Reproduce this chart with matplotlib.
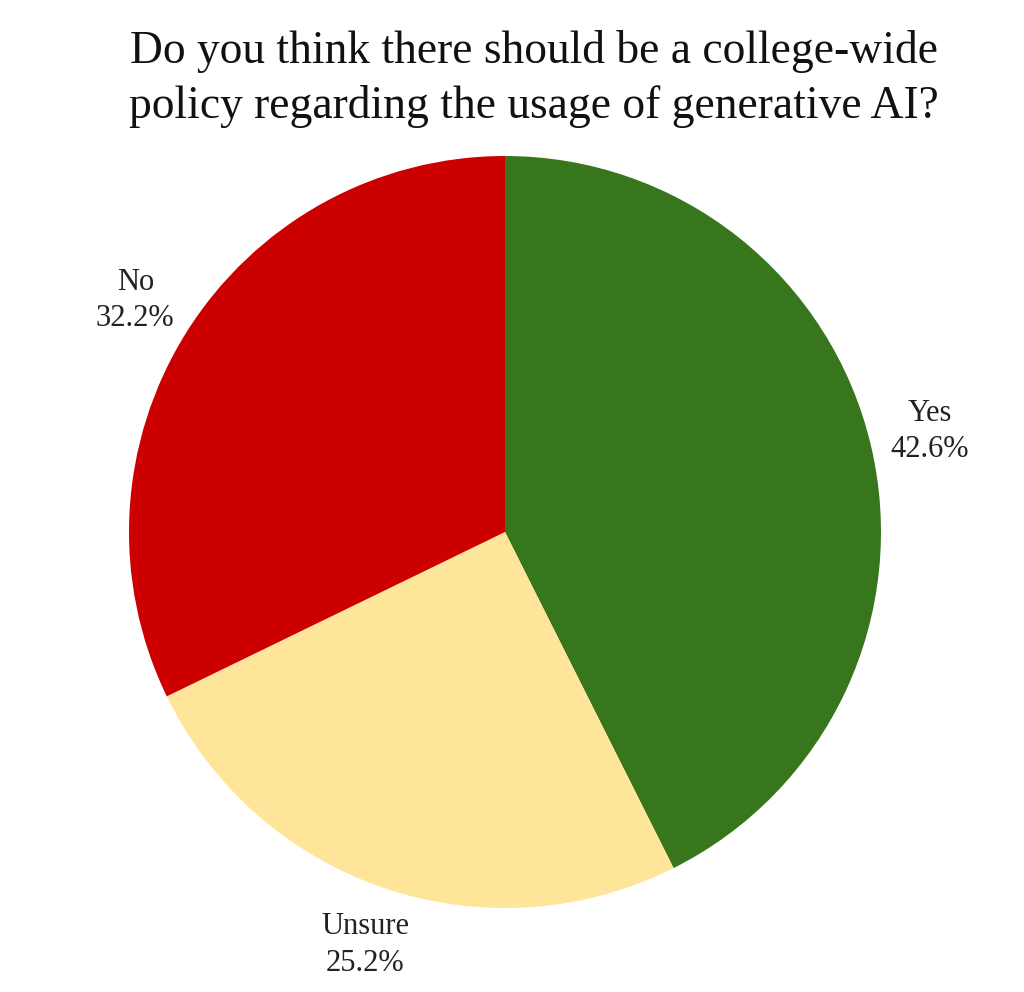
import matplotlib.pyplot as plt

labels = ["Yes", "Unsure", "No"]
values = [42.6, 25.2, 32.2]
colors = ["#38761d", "#ffe599", "#cc0000"]
title = "Do you think there should be a college-wide\npolicy regarding the usage of generative AI?"

plt.rcParams['font.family'] = ['Liberation Serif', 'DejaVu Serif']

fig = plt.figure(figsize=(10.24, 9.92), dpi=100)
# axes placed so the pie sits where it does in the original
r_px = 376
cx, cy = 505, 532
ax = fig.add_axes([(cx - r_px) / 1024, 1 - (cy + r_px) / 992, 2 * r_px / 1024, 2 * r_px / 992])

texts = [f"{l}\n{v:.1f}%" for l, v in zip(labels, values)]
ax.pie(values, labels=texts, colors=colors, startangle=90, counterclock=False,
       labeldistance=1.16, radius=1,
       textprops=dict(fontsize=22, ha='center', va='center', multialignment='center',
                      color='#222222', linespacing=1.35))
ax.set_xlim(-1, 1)
ax.set_ylim(-1, 1)
ax.set_aspect('equal')

fig.text(534 / 1024, 1 - 79 / 992, title, ha='center', va='center',
         fontsize=32.8, color='#111111', linespacing=1.35)

fig.savefig("out.png", dpi=100, facecolor='white')
